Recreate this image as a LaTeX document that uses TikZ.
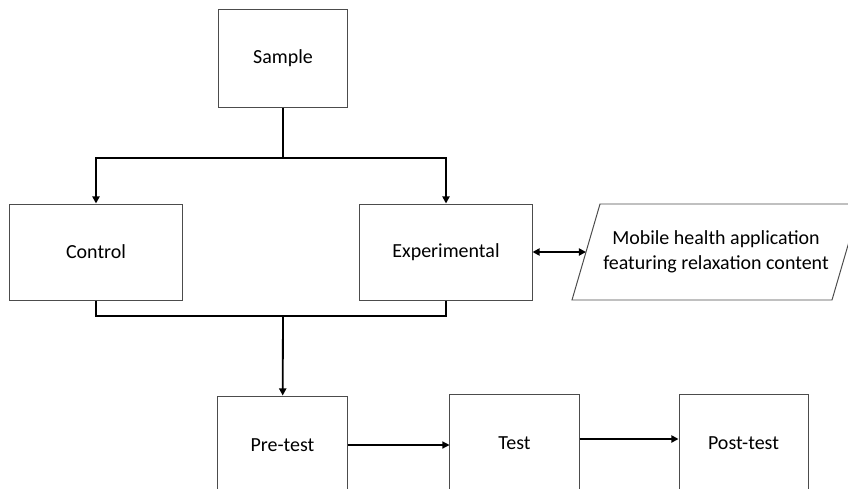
\documentclass[tikz,border=0pt]{standalone}
\usepackage{fontspec}
\setmainfont{Carlito}
\usetikzlibrary{arrows.meta}

\begin{document}
\begin{tikzpicture}[
  x = 0.025cm,
  y = -0.025cm,
  font = \fontsize{14.2}{17.8}\selectfont,
  box/.style = {
    draw = black!70,
    line width = 0.7pt,
    inner sep = 0pt,
  },
  smallbox/.style = {
    box,
    minimum width = 3.2cm,
    minimum height = 2.425cm
  },
  groupbox/.style = {
    box,
    minimum width = 4.3cm,
    minimum height = 2.4cm
  },
  stagebox/.style = {
    box,
    minimum width = 3.225cm,
    minimum height = 2.45cm
  },
  link/.style = {
    line width = 1.3pt
  },
  arr/.style = {
    link,
    -{Triangle[length=5pt, width=5pt]}
  }
]
  \useasboundingbox (0, 0) rectangle (848, 488);

  \node[smallbox] (sample) at (283, 58.5) {Sample};

  \node[groupbox] (control) at (96, 252) {Control};
  \node[groupbox] (experimental) at (446, 252) {Experimental};

  % parallelogram for the app
  \draw[box] (600, 204) -- (860, 204) -- (832, 300) -- (572, 300) -- cycle;
  \node[align = center] (app) at (716, 252)
    {Mobile health application\\featuring relaxation content};
  \coordinate (appside) at (586, 252);

  \node[stagebox] (pretest) at (282.5, 445) {Pre-test};
  \node[stagebox] (test) at (514.5, 443) {Test};
  \node[stagebox] (posttest) at (743.5, 443) {Post-test};

  \coordinate (split) at (283, 158);
  \coordinate (join) at (283, 316);

  \draw[link] (sample) -- (split);
  \draw[arr] (split) -| (control);
  \draw[arr] (split) -| (experimental);
  \draw[link, {Triangle[length=5pt, width=5pt]}-{Triangle[length=5pt, width=5pt]}]
    (experimental) -- (appside);

  \draw[link] (control) |- (join);
  \draw[link] (experimental) |- (join);
  \draw[arr] (join) -- (pretest);

  \draw[arr, line width = 0.8pt] (pretest.east |- 0, 445) -- (test.west |- 0, 445);
  \draw[arr] (test.east |- 0, 439) -- (posttest.west |- 0, 439);
\end{tikzpicture}
\end{document}
